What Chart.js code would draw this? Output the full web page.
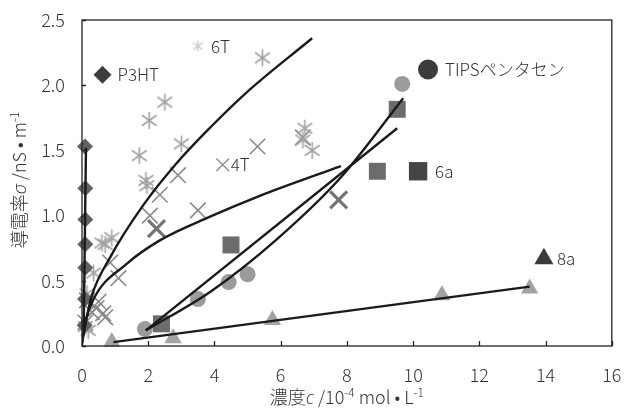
<!DOCTYPE html>
<html>
<head>
<meta charset="utf-8">
<script src="https://cdn.jsdelivr.net/npm/chart.js@4.4.0/dist/chart.umd.min.js"></script>
<style>
html, body { margin: 0; padding: 0; background: #fff; }
#wrap { width: 627px; height: 410px; position: relative; }
</style>
</head>
<body>
<div id="wrap"><canvas id="chart"></canvas></div>
<script>
// concentration c (10^-4 mol/L) vs conductivity sigma (nS/m)
var p3htX = [0.09, 0.10, 0.10, 0.10, 0.10, 0.09, 0.08];
var p3htY = [1.53, 1.21, 0.97, 0.78, 0.60, 0.36, 0.16];

var sixTX = [5.45, 2.50, 2.03, 3.00, 1.73, 1.93, 1.96, 6.73, 6.67, 6.95, 0.60, 0.70, 0.90, 0.35, 0.15, 0.10, 0.19];
var sixTY = [2.21, 1.87, 1.73, 1.55, 1.46, 1.27, 1.23, 1.67, 1.58, 1.50, 0.79, 0.78, 0.83, 0.56, 0.40, 0.15, 0.12];

var fourTX = [5.30, 3.50, 2.90, 2.35, 2.05, 1.10, 0.85, 0.50, 0.70, 0.15, 0.10, 6.67, 0.44, 0.30, 0.64];
var fourTY = [1.53, 1.04, 1.31, 1.16, 1.00, 0.52, 0.64, 0.34, 0.22, 0.35, 0.18, 1.60, 0.29, 0.26, 0.25];
var fourTBoldX = [2.25, 7.75];
var fourTBoldY = [0.90, 1.12];

var tipsX = [1.90, 3.50, 4.43, 5.00, 9.67];
var tipsY = [0.13, 0.36, 0.49, 0.55, 2.01];

var sixAX = [2.40, 4.50, 8.92, 9.52];
var sixAY = [0.17, 0.775, 1.34, 1.815];

var eightAX = [0.90, 2.75, 5.75, 10.87, 13.52];
var eightAY = [0.03, 0.06, 0.20, 0.39, 0.44];

// fitted curves
var p3htFitX = [0.05, 0.12];
var p3htFitY = [0.10, 1.52];
var sixTFitX = [0.0, 0.09, 0.29, 0.85, 1.85, 2.85, 3.85, 4.95, 6.95];
var sixTFitY = [0.02, 0.15, 0.38, 0.68, 1.08, 1.40, 1.67, 1.94, 2.36];
var fourTFitX = [0.0, 0.10, 0.35, 1.35, 2.35, 3.85, 5.35, 7.82];
var fourTFitY = [0.02, 0.18, 0.36, 0.63, 0.81, 0.99, 1.15, 1.38];
var tipsFitX = [1.93, 3.90, 5.89, 7.84, 9.70];
var tipsFitY = [0.12, 0.42, 0.82, 1.30, 1.90];
var sixAFitX = [1.93, 9.52];
var sixAFitY = [0.12, 1.67];
var eightAFitX = [0.95, 13.52];
var eightAFitY = [0.03, 0.455];

// in-plot legend markers
var legendNames = ['P3HT', '6T', '4T', 'TIPSペンタセン', '6a', '8a'];
var legendX = [0.62, 3.50, 4.25, 10.45, 10.15, 13.95];
var legendY = [2.08, 2.30, 1.39, 2.12, 1.34, 0.67];

var xTicks = [0, 2, 4, 6, 8, 10, 12, 14, 16];
var yTicks = [0, 0.5, 1.0, 1.5, 2.0, 2.5];

var FONT = '"Noto Sans CJK JP", "Open Sans", sans-serif';
var TEXT = '#333333';

function pts(xs, ys) {
    return xs.map(function(x, i) { return { x: x, y: ys[i] }; });
}

// six-armed asterisk used for 6T
function asterisk(size, color, lw) {
    var c = document.createElement('canvas');
    c.width = size; c.height = size;
    var g = c.getContext('2d');
    var m = size / 2, r = size / 2 - 1;
    g.strokeStyle = color;
    g.lineWidth = lw;
    g.beginPath();
    g.moveTo(m, m - r); g.lineTo(m, m + r);
    var dx = r * 0.87, dy = r * 0.62;
    g.moveTo(m - dx, m - dy); g.lineTo(m + dx, m + dy);
    g.moveTo(m + dx, m - dy); g.lineTo(m - dx, m + dy);
    g.stroke();
    return c;
}

function markers(label, data, style, color, radius, extra) {
    var ds = {
        label: label,
        data: data,
        pointStyle: style,
        pointRadius: radius,
        pointBackgroundColor: color,
        pointBorderColor: color,
        pointBorderWidth: 0,
        showLine: false,
        clip: false,
        order: 2
    };
    for (var k in extra) ds[k] = extra[k];
    return ds;
}

function fitLine(data, smooth) {
    return {
        data: data,
        showLine: true,
        borderColor: '#1a1a1a',
        borderWidth: 2.4,
        pointRadius: 0,
        fill: false,
        cubicInterpolationMode: smooth ? 'monotone' : 'default',
        order: 0
    };
}

var datasets = [
    fitLine(pts(p3htFitX, p3htFitY), false),
    fitLine(pts(sixTFitX, sixTFitY), true),
    fitLine(pts(fourTFitX, fourTFitY), true),
    fitLine(pts(tipsFitX, tipsFitY), true),
    fitLine(pts(sixAFitX, sixAFitY), false),
    fitLine(pts(eightAFitX, eightAFitY), false),

    markers('P3HT', pts(p3htX, p3htY), 'rectRot', '#626262', 8),
    markers('6T', pts(sixTX, sixTY), asterisk(19, '#a3a3a3', 1.6), '#a3a3a3', 9),
    markers('4T', pts(fourTX, fourTY), 'crossRot', '#8a8a8a', 11, { pointBorderWidth: 1.6 }),
    markers('4T bold', pts(fourTBoldX, fourTBoldY), 'crossRot', '#747474', 12, { pointBorderWidth: 3.2 }),
    markers('TIPS', pts(tipsX, tipsY), 'circle', '#9b9b9b', 8),
    markers('6a', pts(sixAX, sixAY), 'rect', '#6c6c6c', 12),
    markers('8a', pts(eightAX, eightAY), 'triangle', '#a3a3a3', 10),

    // legend markers, drawn inside the plot
    markers('legend', pts(legendX, legendY), [
        'rectRot', asterisk(13, '#c6c6c6', 1.3), 'crossRot', 'circle', 'rect', 'triangle'
    ], ['#3d3d3d', '#c6c6c6', '#8f8f8f', '#3c3c3c', '#454545', '#3a3a3a'],
    [9, 7, 9, 10, 13, 11], { pointBorderWidth: [0, 0, 1.4, 0, 0, 0], order: 3 })
];

// draw text pieces with italics and superscripts
function drawRich(ctx, parts, x, y) {
    var size = 18;
    var widths = parts.map(function(p) {
        ctx.font = fontFor(p, size);
        return ctx.measureText(p.t).width;
    });
    var total = widths.reduce(function(a, b) { return a + b; }, 0);
    var cx = x - total / 2;
    ctx.textBaseline = 'alphabetic';
    ctx.textAlign = 'left';
    parts.forEach(function(p, i) {
        ctx.font = fontFor(p, size);
        ctx.fillText(p.t, cx, p.sup ? y - 7 : y);
        cx += widths[i];
    });
}

function fontFor(p, size) {
    if (p.sup) return '300 12px ' + FONT;
    if (p.it) return 'italic 300 ' + size + 'px "Open Sans", "Liberation Sans", sans-serif';
    return '300 ' + size + 'px ' + FONT;
}

var labelGap = [15, 13, 8, 17, 17, 13];

var decorations = {
    id: 'decorations',
    afterDatasetsDraw: function(chart) {
        var ctx = chart.ctx;
        var a = chart.chartArea;
        var xs = chart.scales.x, ys = chart.scales.y;
        ctx.save();

        // frame and inward tick marks
        ctx.strokeStyle = '#222';
        ctx.lineWidth = 1.3;
        ctx.strokeRect(a.left, a.top, a.right - a.left, a.bottom - a.top);
        ctx.beginPath();
        xTicks.forEach(function(v) {
            var px = Math.round(xs.getPixelForValue(v)) + 0.5;
            ctx.moveTo(px, a.bottom); ctx.lineTo(px, a.bottom - 5);
        });
        yTicks.forEach(function(v) {
            var py = Math.round(ys.getPixelForValue(v)) + 0.5;
            ctx.moveTo(a.left, py); ctx.lineTo(a.left + 4, py);
        });
        ctx.stroke();

        // legend labels beside their markers
        var meta = chart.getDatasetMeta(chart.data.datasets.length - 1);
        ctx.fillStyle = TEXT;
        ctx.font = '300 17px ' + FONT;
        ctx.textBaseline = 'middle';
        ctx.textAlign = 'left';
        meta.data.forEach(function(el, i) {
            ctx.fillText(legendNames[i], el.x + labelGap[i], el.y);
        });

        // axis titles
        drawRich(ctx, [
            { t: '濃度' }, { t: 'c', it: true }, { t: ' /10' }, { t: '-4', sup: true },
            { t: ' mol • L' }, { t: '-1', sup: true }
        ], (a.left + a.right) / 2, 404);

        ctx.save();
        ctx.translate(26, 180);
        ctx.rotate(-Math.PI / 2);
        drawRich(ctx, [
            { t: '導電率' }, { t: 'σ', it: true }, { t: ' /nS • m' }, { t: '-1', sup: true }
        ], 0, 0);
        ctx.restore();

        ctx.restore();
    }
};

new Chart(document.getElementById('chart'), {
    type: 'scatter',
    data: { datasets: datasets },
    options: {
        responsive: true,
        maintainAspectRatio: false,
        animation: false,
        events: [],
        layout: { padding: { top: 20, right: 12, left: 0, bottom: 0 } },
        plugins: {
            legend: { display: false },
            tooltip: { enabled: false }
        },
        scales: {
            x: {
                type: 'linear',
                min: 0, max: 16,
                grid: { display: false, drawTicks: false },
                border: { display: false },
                afterFit: function(s) {
                    s.height = 64;
                    s.paddingLeft = 0; s.paddingRight = 0;
                },
                afterBuildTicks: function(s) { s.ticks = xTicks.map(function(v) { return { value: v }; }); },
                ticks: {
                    padding: 18,
                    color: TEXT,
                    font: { family: FONT, size: 18, weight: '300' },
                    callback: function(v) { return String(v); }
                }
            },
            y: {
                type: 'linear',
                min: 0, max: 2.5,
                grid: { display: false, drawTicks: false },
                border: { display: false },
                afterFit: function(s) {
                    s.width = 82;
                    s.paddingTop = 0; s.paddingBottom = 0;
                },
                afterBuildTicks: function(s) { s.ticks = yTicks.map(function(v) { return { value: v }; }); },
                ticks: {
                    padding: 17,
                    color: TEXT,
                    font: { family: FONT, size: 18, weight: '300' },
                    callback: function(v) { return v.toFixed(1); }
                }
            }
        }
    },
    plugins: [decorations]
});
</script>
</body>
</html>
